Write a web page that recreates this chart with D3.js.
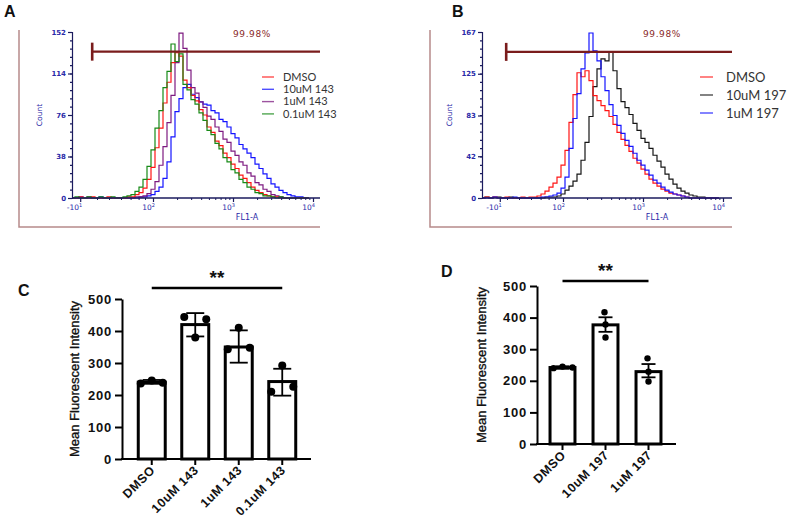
<!DOCTYPE html>
<html><head><meta charset="utf-8">
<script src="https://cdn.jsdelivr.net/npm/d3@7/dist/d3.min.js"></script>
<style>body{margin:0;background:#fff}svg{display:block}</style>
</head><body><svg id="c" width="794" height="518"></svg>
<script>
// ---------------- DATA ----------------
// Histogram bins (decades of FL1-A), counts per bin
const binStart = 1.0, binStep = 0.05;

// Panel A
const legendA = ["DMSO", "10uM 143", "1uM 143", "0.1uM 143"];
const colorsA = ["#ff1414", "#1414ff", "#7d1a80", "#178a17"];
const countsA_DMSO = [0,0,1,0,0,1,0,0,0,1,0,0, 0,0,1,1,3,5,9,17,
  28,46,64,87,106,124,133,130,108,101,94,89,81,76,65,60,52,48,41,37,
  31,27,21,18,14,10,7,5,3,2,1,1,0,0,0,0,0,0,0,0];
const countsA_10uM = [0,0,1,0,0,0,0,1,0,0,0,0, 0,0,0,0,0,1,1,2,
  3,6,10,18,33,56,79,91,101,104,95,92,88,86,85,80,78,72,70,65,
  59,55,49,45,41,37,31,27,22,18,13,10,7,5,3,2,1,1,0,0];
const countsA_1uM = [0,0,0,0,1,0,0,0,0,0,0,0, 0,0,0,0,1,1,2,4,
  8,15,30,47,69,94,124,151,137,117,101,96,88,83,75,72,65,61,54,51,
  43,39,33,30,23,20,14,12,8,6,3,2,1,0,0,0,0,0,0,0];
const countsA_01uM = [0,1,0,0,1,0,0,1,0,0,1,0, 0,1,2,3,6,10,17,29,
  44,64,80,101,116,141,125,132,104,99,90,86,78,71,62,58,50,45,37,33,
  26,23,17,14,10,8,5,4,2,2,1,0,1,0,0,0,0,0,0,0];
const yTicksA = [0, 38, 76, 114, 152];
const xTickPosA = [1.09, 2, 3, 4];
const gateA = { from: 1.24, level: 134, label: "99.98%" };

// Panel B
const legendB = ["DMSO", "10uM 197", "1uM 197"];
const colorsB = ["#ff1414", "#141414", "#1414ff"];
const countsB_DMSO = [0,1,0,1,0,0,1,0,0,0,1,0, 1,1,2,4,7,11,15,21,
  33,48,76,104,126,122,128,118,103,98,93,88,82,74,66,59,53,47,40,35,
  29,24,19,15,12,9,7,5,4,3,2,1,0,0,0,0,0,0,0,0];
const countsB_10uM = [0,1,0,1,1,0,0,1,0,0,0,0, 0,0,0,0,1,1,1,2,
  4,8,12,17,24,38,56,82,112,130,140,138,147,128,110,97,91,84,75,68,
  60,56,50,43,37,31,24,19,14,10,7,5,3,2,1,1,0,0,0,0];
const countsB_1uM = [0,0,0,1,0,0,0,0,1,0,0,0, 0,0,0,1,1,2,3,5,
  10,21,50,80,105,130,146,166,148,138,122,108,94,83,73,65,58,52,45,38,
  33,28,23,18,15,11,8,6,4,3,2,1,0,0,0,0,0,0,0,0];
const yTicksB = [0, 42, 83, 125, 167];
const xTickPosB = [1.21, 2, 3, 4];
const gateB = { from: 1.29, level: 147, label: "99.98%" };

const xTickBase = ["-10", "10", "10", "10"];
const xTickExp = ["1", "2", "3", "4"];

// Panel C
const categoriesC = ["DMSO", "10uM 143", "1uM 143", "0.1uM 143"];
const meansC = [240, 420, 350, 242];
const errLowC = [235, 383, 301, 198];
const errHighC = [247, 456, 402, 282];
const pointsC = [[236, 245, 238], [444, 380, 437], [343, 410, 348], [210, 292, 226]];

// Panel D
const categoriesD = ["DMSO", "10uM 197", "1uM 197"];
const meansD = [242, 377, 229];
const errLowD = [238, 355, 211];
const errHighD = [246, 401, 253];
const pointsD = [[240, 245, 242], [417, 378, 337], [271, 229, 198]];

const yTicksBar = [0, 100, 200, 300, 400, 500];

// ---------------- DRAW ----------------
const svg = d3.select("#c");
const AX = "#1b1b5e", LAB = "#2a2aa8";

function drawHist(L, yTicks, xTickPos, series, gate) {
  const g = svg.append("g");
  const x = d3.scaleLinear().domain([2, 3]).range([L.d2, L.d2 + 80]);
  const y = d3.scaleLinear().domain([0, yTicks[yTicks.length - 1]]).range([L.bottom, L.top]);
  // frame
  g.append("path").attr("d", `M${L.frameL},30V227H${L.right}`)
    .attr("fill", "none").attr("stroke", "#b68a8a").attr("stroke-width", 1.5);
  // series
  const line = d3.line().x((d, i) => x(binStart + i * binStep)).y(d => y(d)).curve(d3.curveStep);
  series.forEach(s => {
    g.append("path").attr("d", line(s.counts)).attr("fill", "none")
      .attr("stroke", s.color).attr("stroke-width", 1.2);
  });
  // y axis
  const minorY = d3.range(0, 21).map(i => i * yTicks[yTicks.length - 1] / 20);
  g.append("g").attr("transform", `translate(${L.left},0)`)
    .call(d3.axisLeft(y).tickValues(minorY).tickSize(2).tickFormat(""))
    .call(a => a.selectAll("line,path").attr("stroke", AX).attr("stroke-width", 1.2));
  g.append("g").attr("transform", `translate(${L.left},0)`)
    .call(d3.axisLeft(y).tickValues(yTicks).tickSize(4).tickPadding(2).tickSizeOuter(0))
    .call(a => a.select(".domain").remove())
    .call(a => a.selectAll("line").attr("stroke", AX).attr("stroke-width", 1.2))
    .call(a => a.selectAll("text").attr("fill", LAB).attr("font-size", 7)
      .attr("font-family", "DejaVu Sans").attr("font-weight", "bold"));
  // x axis
  const minorX = [1.3, 1.45, 1.6, 1.72, 1.82, 1.9];
  [2, 3].forEach(n => d3.range(2, 10).forEach(k => minorX.push(n + Math.log10(k))));
  g.append("line").attr("x1", L.left).attr("x2", L.right).attr("y1", L.bottom).attr("y2", L.bottom)
    .attr("stroke", AX).attr("stroke-width", 1.3);
  g.append("g").attr("transform", `translate(0,${L.bottom})`)
    .call(d3.axisBottom(x).tickValues(minorX).tickSize(2).tickFormat("").tickSizeOuter(0))
    .call(a => a.select(".domain").remove())
    .call(a => a.selectAll("line").attr("stroke", AX));
  g.append("g").attr("transform", `translate(0,${L.bottom})`)
    .call(d3.axisBottom(x).tickValues(xTickPos).tickSize(4).tickFormat("").tickSizeOuter(0))
    .call(a => a.select(".domain").remove())
    .call(a => a.selectAll("line").attr("stroke", AX).attr("stroke-width", 1.2));
  xTickPos.forEach((p, i) => {
    const t = g.append("text").attr("x", x(p) + 2).attr("y", 210).attr("text-anchor", "end")
      .attr("fill", LAB).attr("font-size", 7.5).attr("font-family", "DejaVu Sans");
    t.append("tspan").text(xTickBase[i]);
    t.append("tspan").attr("dy", -3).attr("font-size", 5).text(xTickExp[i]);
  });
  g.append("text").attr("x", x(3) + 14).attr("y", 220).attr("text-anchor", "middle")
    .attr("fill", LAB).attr("font-size", 8).attr("font-family", "DejaVu Sans").text("FL1-A");
  g.append("text").attr("transform", `translate(${L.countX},115) rotate(-90)`).attr("text-anchor", "middle")
    .attr("fill", LAB).attr("font-size", 7.5).attr("font-family", "DejaVu Sans").text("Count");
  // gate
  g.append("line").attr("x1", x(gate.from)).attr("x2", L.right).attr("y1", y(gate.level)).attr("y2", y(gate.level))
    .attr("stroke", "#7a1c1c").attr("stroke-width", 2.2);
  g.append("line").attr("x1", x(gate.from)).attr("x2", x(gate.from)).attr("y1", y(gate.level) - 9).attr("y2", y(gate.level) + 9)
    .attr("stroke", "#7a1c1c").attr("stroke-width", 2.6);
  g.append("text").attr("x", L.gateTextX).attr("y", 37).attr("fill", "#8a2a2a").attr("font-size", 9)
    .attr("letter-spacing", 0.6).attr("font-family", "DejaVu Sans").text(gate.label);
}

function legendBlock(names, colors, o) {
  names.forEach((nm, i) => {
    const yy = o.y0 + i * o.dy;
    svg.append("line").attr("x1", o.x).attr("x2", o.x + o.w).attr("y1", yy).attr("y2", yy)
      .attr("stroke", colors[i]).attr("stroke-width", 1.4).attr("opacity", 0.75);
    svg.append("text").attr("x", o.tx).attr("y", yy).attr("dy", "0.35em").attr("fill", "#333")
      .attr("font-size", o.fs).attr("font-family", "Lato, Open Sans, sans-serif").text(nm);
  });
}

drawHist({ left: 72, right: 320, top: 32, bottom: 198, d2: 153, frameL: 19, countX: 42, gateTextX: 233 },
  yTicksA, xTickPosA,
  [{ color: colorsA[1], counts: countsA_10uM }, { color: colorsA[2], counts: countsA_1uM },
   { color: colorsA[0], counts: countsA_DMSO }, { color: colorsA[3], counts: countsA_01uM }], gateA);
legendBlock(legendA, colorsA, { x: 262, w: 12, tx: 283, y0: 77, dy: 12.3, fs: 11 });

drawHist({ left: 482, right: 732, top: 32, bottom: 198, d2: 563, frameL: 430, countX: 452, gateTextX: 643 },
  yTicksB, xTickPosB,
  [{ color: colorsB[1], counts: countsB_10uM }, { color: colorsB[0], counts: countsB_DMSO },
   { color: colorsB[2], counts: countsB_1uM }], gateB);
legendBlock(legendB, colorsB, { x: 700, w: 13, tx: 726, y0: 77, dy: 18, fs: 13 });

// Panel letters
[["A", 4, 17], ["B", 452, 17], ["C", 18, 296], ["D", 441, 277]].forEach(([t, x, y]) =>
  svg.append("text").attr("x", x).attr("y", y).attr("font-size", 16).attr("font-weight", "bold")
    .attr("font-family", "Liberation Sans, Arial, sans-serif").attr("fill", "#111").text(t));

function drawBars(cats, means, lo, hi, pts, L) {
  const g = svg.append("g").attr("font-family", "Liberation Sans, Arial, sans-serif");
  const x = d3.scaleBand().domain(cats).range(L.band).paddingInner(L.pin).paddingOuter(L.pin / 2);
  const y = d3.scaleLinear().domain([0, 500]).range([L.y0, L.y500]);
  const bw = x.bandwidth(), cx = c => x(c) + bw / 2;
  // bars
  g.selectAll("rect.bar").data(cats).join("rect")
    .attr("x", c => x(c)).attr("width", bw)
    .attr("y", (c, i) => y(means[i])).attr("height", (c, i) => y(0) - y(means[i]))
    .attr("fill", "#fff").attr("stroke", "#000").attr("stroke-width", 3);
  // error bars and points
  cats.forEach((c, i) => {
    g.append("line").attr("x1", cx(c)).attr("x2", cx(c)).attr("y1", y(lo[i])).attr("y2", y(hi[i]))
      .attr("stroke", "#000").attr("stroke-width", 1.8);
    [lo[i], hi[i]].forEach(v => g.append("line").attr("x1", cx(c) - L.cap / 2).attr("x2", cx(c) + L.cap / 2)
      .attr("y1", y(v)).attr("y2", y(v)).attr("stroke", "#000").attr("stroke-width", 1.8));
    pts[i].forEach((v, j) => g.append("circle").attr("cx", cx(c) + L.off(i, j)).attr("cy", y(v))
      .attr("r", L.r).attr("fill", "#000"));
  });
  // axes
  g.append("g").attr("transform", `translate(${L.axisX},0)`)
    .call(d3.axisLeft(y).tickValues(yTicksBar).tickSize(7).tickPadding(3).tickSizeOuter(0))
    .call(a => a.selectAll("line,path").attr("stroke", "#000").attr("stroke-width", 2))
    .call(a => a.selectAll("text").attr("fill", "#111").attr("font-size", 13).attr("font-weight", "bold")
      .attr("letter-spacing", 0.8).attr("font-family", "Liberation Sans, Arial, sans-serif"));
  g.append("line").attr("x1", L.axisX - 1).attr("x2", L.xEnd).attr("y1", y(0)).attr("y2", y(0))
    .attr("stroke", "#000").attr("stroke-width", 2);
  g.append("g").attr("transform", `translate(0,${y(0)})`)
    .call(d3.axisBottom(x).tickSize(6).tickSizeOuter(0).tickFormat(""))
    .call(a => a.select(".domain").remove())
    .call(a => a.selectAll("line").attr("stroke", "#000").attr("stroke-width", 2));
  cats.forEach(c => g.append("text")
    .attr("transform", `translate(${cx(c) + 4},${y(0) + 12}) rotate(-45)`)
    .attr("text-anchor", "end").attr("font-size", 12.5).attr("font-weight", "bold")
    .attr("letter-spacing", 0.5).attr("fill", "#111").text(c));
  // y label
  g.append("text").attr("transform", `translate(${L.labX},${(y(0) + y(500)) / 2}) rotate(-90)`)
    .attr("text-anchor", "middle").attr("font-size", 13).attr("fill", "#111")
    .attr("stroke", "#111").attr("stroke-width", 0.35).text("Mean Fluorescent Intensity");
  // significance
  g.append("line").attr("x1", cx(cats[0])).attr("x2", cx(cats[cats.length - 1])).attr("y1", L.sigY).attr("y2", L.sigY)
    .attr("stroke", "#000").attr("stroke-width", 2.5);
  g.append("text").attr("x", (cx(cats[0]) + cx(cats[cats.length - 1])) / 2).attr("y", L.sigY - 4)
    .attr("text-anchor", "middle").attr("font-size", 19).attr("font-weight", "bold").attr("fill", "#111").text("**");
}

drawBars(categoriesC, meansC, errLowC, errHighC, pointsC,
  { band: [130, 304], pin: 0.38, y0: 459, y500: 299, cap: 18, r: 4, axisX: 122, xEnd: 311, labX: 79, sigY: 288,
    off: (i, j) => [-11, 0, 11][j] });
drawBars(categoriesD, meansD, errLowD, errHighD, pointsD,
  { band: [541, 670], pin: 0.42, y0: 444, y500: 286, cap: 14, r: 3.2, axisX: 537, xEnd: 676, labX: 486, sigY: 281,
    off: (i, j) => i === 0 ? [-9, 0, 10][j] : [-1, 0, 0][j] });
</script></body></html>
